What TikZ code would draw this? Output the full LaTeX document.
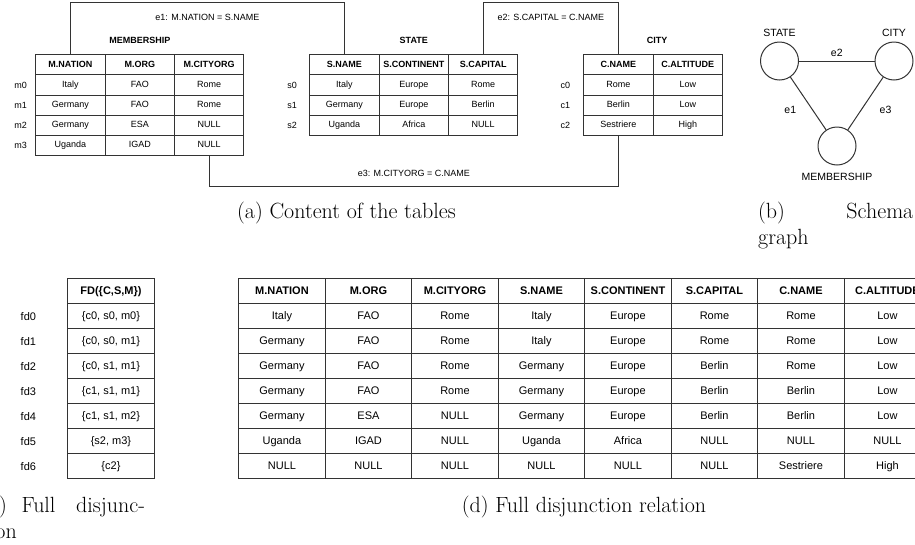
\documentclass[tikz,border=0pt]{standalone}
\usepackage{fontspec}
\usepackage{tikz}
\usetikzlibrary{matrix,positioning}
\newfontfamily\helvfont{Liberation Sans}
\newcommand\tinysans{\helvfont\fontsize{9}{11}\selectfont}
\newcommand\smallsans{\helvfont\fontsize{11}{13}\selectfont}
\newcommand\graphsans{\helvfont\fontsize{10.5}{12}\selectfont}
\newcommand\capfont{\fontsize{22}{26.4}\selectfont}
\tikzset
{
    cell/.style       = {draw=black!80, line width=1pt, inner sep=0pt, anchor=center},
    toptable/.style   = {matrix of nodes, inner sep=0pt, matrix anchor=north west, column sep=-1pt, row sep=-1pt,
                         nodes={cell, minimum width=69.4pt, minimum height=20.2pt, text height=6.5pt, text depth=1.9pt, font=\tinysans},
                         row 1/.style={nodes={font=\tinysans\bfseries}}},
    bottable/.style   = {matrix of nodes, inner sep=0pt, matrix anchor=north west, column sep=-1pt, row sep=-1pt,
                         nodes={cell, minimum width=86.5pt, minimum height=25pt, text height=8pt, text depth=2.3pt, font=\smallsans},
                         row 1/.style={nodes={font=\smallsans\bfseries}}},
    tabtitle/.style   = {font=\tinysans\bfseries, inner sep=0pt},
    rowlabel/.style   = {font=\tinysans, inner sep=0pt},
    fdlabel/.style    = {font=\smallsans, inner sep=0pt},
    joinline/.style   = {draw=black!80, line width=1pt},
    joinlabel/.style  = {font=\tinysans, inner sep=0pt},
    relnode/.style    = {circle, draw=black!80, line width=1pt, minimum size=38pt, inner sep=0pt},
    graphlabel/.style = {font=\graphsans, inner sep=0pt},
    caption/.style    = {font=\capfont, inner sep=0pt}
}

\begin{document}
\begin{tikzpicture}
	[x=1pt, y=-1pt]
	\useasboundingbox (0,0) rectangle (915,544);
	\clip (0,0) rectangle (915,544);

	% (a) the three tables
	\matrix[toptable] (member) at (35,54) {
		M.NATION & M.ORG & M.CITYORG \\
		Italy    & FAO   & Rome      \\
		Germany  & FAO   & Rome      \\
		Germany  & ESA   & NULL      \\
		Uganda   & IGAD  & NULL      \\
	};
	\matrix[toptable] (state) at (309,54) {
		S.NAME  & S.CONTINENT & S.CAPITAL \\
		Italy   & Europe      & Rome      \\
		Germany & Europe      & Berlin    \\
		Uganda  & Africa      & NULL      \\
	};
	\matrix[toptable] (city) at (583,54) {
		C.NAME    & C.ALTITUDE \\
		Rome      & Low        \\
		Berlin    & Low        \\
		Sestriere & High       \\
	};
	\node[tabtitle, above=10pt of member.north] (membertitle) {MEMBERSHIP};
	\node[tabtitle, above=10pt of state.north] (statetitle) {STATE};
	\node[tabtitle, above=10pt of city.north, xshift=4pt] (citytitle) {CITY};
	\foreach \i [count=\r from 2] in {0,...,3}
		\node[rowlabel, left=8pt of member-\r-1] (m\i) {m\i};
	\foreach \i [count=\r from 2] in {0,...,2}
	{
		\node[rowlabel, left=12pt of state-\r-1] (s\i) {s\i};
		\node[rowlabel, left=13pt of city-\r-1] (c\i) {c\i};
	}

	% join conditions
	\draw[joinline] (member-1-1.north) |- node[joinlabel, pos=0.75, below=11.5pt] (e1lab) {e1: M.NATION = S.NAME}
		([yshift=52pt]state-1-1.north) -- (state-1-1.north);
	\draw[joinline] (state-1-3.north) |- node[joinlabel, pos=0.75, below=11.5pt] (e2lab) {e2: S.CAPITAL = C.NAME}
		([yshift=52pt]city-1-1.north) -- (city-1-1.north);
	\draw[joinline] (member-5-3.south) |- node[joinlabel, pos=0.75, above=9pt] (e3lab) {e3: M.CITYORG = C.NAME}
		([yshift=-50pt]city-4-1.south) -- (city-4-1.south);

	% (b) schema graph
	\node[relnode, label={[graphlabel, label distance=4.5pt]above:STATE}] (gstate) at (779.5,61) {};
	\node[relnode, label={[graphlabel, label distance=4.5pt]above:CITY}] (gcity) at (894,61) {};
	\node[relnode, label={[graphlabel, label distance=7.5pt]below:MEMBERSHIP}] (gmember) at (837,146) {};
	\draw[joinline] (gstate) -- node[graphlabel, above=4pt] (ge2) {e2} (gcity);
	\draw[joinline] (gstate) -- node[graphlabel, xshift=-18pt, yshift=-6.5pt] (ge1) {e1} (gmember);
	\draw[joinline] (gcity) -- node[graphlabel, xshift=20pt, yshift=-6.5pt] (ge3) {e3} (gmember);

	% (c) full disjunction
	\matrix[bottable] (fdtab) at (67,278) {
		FD(\{C,S,M\}) \\
		\{c0, s0, m0\} \\
		\{c0, s0, m1\} \\
		\{c0, s1, m1\} \\
		\{c1, s1, m1\} \\
		\{c1, s1, m2\} \\
		\{s2, m3\} \\
		\{c2\} \\
	};
	\foreach \i [count=\r from 2] in {0,...,6}
		\node[fdlabel, left=31pt of fdtab-\r-1] (fd\i) {fd\i};

	% (d) full disjunction relation
	\matrix[bottable] (fullrel) at (238,278) {
		M.NATION & M.ORG & M.CITYORG & S.NAME  & S.CONTINENT & S.CAPITAL & C.NAME    & C.ALTITUDE \\
		Italy    & FAO   & Rome      & Italy   & Europe      & Rome      & Rome      & Low        \\
		Germany  & FAO   & Rome      & Italy   & Europe      & Rome      & Rome      & Low        \\
		Germany  & FAO   & Rome      & Germany & Europe      & Berlin    & Rome      & Low        \\
		Germany  & FAO   & Rome      & Germany & Europe      & Berlin    & Berlin    & Low        \\
		Germany  & ESA   & NULL      & Germany & Europe      & Berlin    & Berlin    & Low        \\
		Uganda   & IGAD  & NULL      & Uganda  & Africa      & NULL      & NULL      & NULL       \\
		NULL     & NULL  & NULL      & NULL    & NULL        & NULL      & Sestriere & High       \\
	};

	% captions
	\node[caption, anchor=base west] (capa) at (237,218) {(a) Content of the tables};
	\node[caption, anchor=base west] (capb1) at (758,218) {(b)};
	\node[caption, anchor=base east] (capb2) at (913.5,218) {Schema};
	\node[caption, anchor=base west] (capb3) at (758,244.5) {graph};
	\node[caption, anchor=base east] (capc1) at (7,512) {)};
	\node[caption, anchor=base west] (capc2) at (21.5,512) {Full};
	\node[caption, anchor=base west] (capc3) at (76,512) {disjunc-};
	\node[caption, anchor=base east] (capc4) at (17,538.5) {on};
	\node[caption, anchor=base] (capd) at (584,512) {(d) Full disjunction relation};
\end{tikzpicture}
\end{document}
